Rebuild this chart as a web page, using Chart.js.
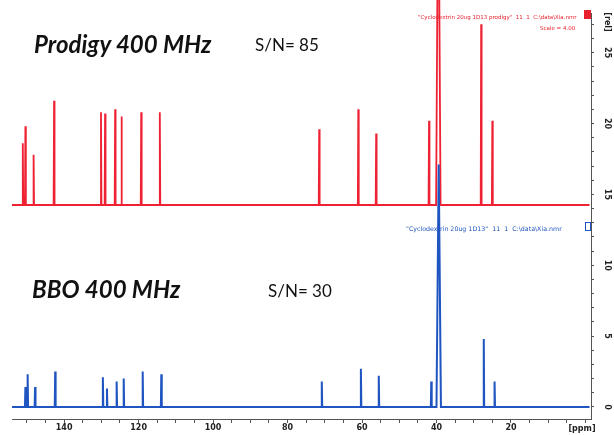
<!DOCTYPE html>
<html>
<head>
<meta charset="utf-8">
<script src="https://cdn.jsdelivr.net/npm/chart.js@4.4.1/dist/chart.umd.min.js"></script>
<style>
  html, body { margin: 0; padding: 0; background: #fff; }
  #wrap { position: relative; width: 614px; height: 435px; overflow: hidden; }
  #espectro { position: absolute; left: 0; top: 0; }
  .rotulo { position: absolute; white-space: nowrap; font-family: Lato, "Open Sans", sans-serif; color: #111; }
  .grande { font-size: 24px; font-weight: 700; font-style: italic; }
  .sn { font-size: 17px; }
  .ruta { font-family: "DejaVu Sans", sans-serif; font-size: 5.5px; }
</style>
</head>
<body>
<div id="wrap">
  <canvas id="espectro" width="614" height="435"></canvas>
  <div class="rotulo grande" style="left:34px; top:29px;">Prodigy 400 MHz</div>
  <div class="rotulo sn" style="left:255px; top:34px;">S/N= 85</div>
  <div class="rotulo grande" style="left:32px; top:274px;">BBO 400 MHz</div>
  <div class="rotulo sn" style="left:268px; top:280px;">S/N= 30</div>
  <div class="rotulo ruta" style="left:418px; top:14px; color:#e8202c;">"Cyclodextrin 20ug 1D13 prodigy"&nbsp; 11&nbsp; 1&nbsp; C:\data\Xia.nmr</div>
  <div class="rotulo ruta" style="left:540px; top:25px; color:#e8202c;">Scale = 4.00</div>
  <div class="rotulo ruta" style="left:406px; top:225px; color:#1f55c0; font-size:6.3px;">"Cyclodextrin 20ug 1D13"&nbsp; 11&nbsp; 1&nbsp; C:\data\Xia.nmr</div>
</div>
<script>
// datos (ppm, altura en [rel])
const ppmProdigy   = [151.1, 150.4, 148.2, 142.7, 130.1, 129.0, 126.3, 124.6, 119.3, 114.3, 71.5, 61.0, 56.2, 42.0, 39.5, 28.0, 25.0];
const altoProdigy  = [18.6, 19.8, 17.8, 21.6, 20.8, 20.7, 21.0, 20.5, 20.8, 20.8, 19.6, 21.0, 19.3, 20.2, 40.0, 27.0, 20.2];
const baseProdigy  = 14.25;

const ppmBBO   = [150.4, 149.8, 147.8, 142.4, 129.6, 128.5, 125.9, 124.0, 118.9, 113.9, 70.8, 60.3, 55.5, 41.4, 39.4, 27.3, 24.4];
const altoBBO  = [1.4, 2.3, 1.4, 2.5, 2.1, 1.3, 1.8, 2.0, 2.5, 2.3, 1.8, 2.7, 2.2, 1.8, 17.1, 4.8, 1.8];
const baseBBO  = 0;

const solvente = 39.5; // DMSO, pico ancho
const ejeX = [154, -1.5];
const ejeY = [-0.85, 27.8];

function armarEspectro(ppm, alto, base){
    let pts = [{x: ejeX[0], y: base}];
    ppm.forEach((p, i)=>{
        const w = Math.abs(p - solvente) < 0.3 ? 0.6 : 0.12;
        pts.push({x: p + w, y: base});
        pts.push({x: p, y: alto[i]});
        pts.push({x: p - w, y: base});
    });
    pts.push({x: ejeX[1] + 0.4, y: base});
    return pts;
}

const extras = {
    id: 'extras',
    afterDraw(chart){
        const ctx = chart.ctx;
        const y = chart.scales.y, x = chart.scales.x;
        ctx.save();
        // etiquetas rotadas del eje derecho
        ctx.fillStyle = '#222';
        ctx.font = 'bold 8px "DejaVu Sans", sans-serif';
        ctx.textAlign = 'center';
        ctx.textBaseline = 'middle';
        [0, 5, 10, 15, 20, 25].forEach(v=>{
            ctx.save();
            ctx.translate(y.right - 7, y.getPixelForValue(v));
            ctx.rotate(Math.PI/2);
            ctx.fillText(String(v), 0, 0);
            ctx.restore();
        });
        ctx.save();
        ctx.translate(y.right - 7, 22);
        ctx.rotate(Math.PI/2);
        ctx.fillText('[rel]', 0, 0);
        ctx.restore();
        // unidad del eje x
        ctx.font = 'bold 8px "DejaVu Sans", sans-serif';
        ctx.fillText('[ppm]', 582, x.bottom - 6);
        // marcadores de leyenda
        ctx.fillStyle = '#e8202c';
        ctx.fillRect(584, 10, 7, 9);
        ctx.strokeStyle = '#1f55c0';
        ctx.lineWidth = 1;
        ctx.strokeRect(585.5, 222.5, 5, 8);
        ctx.restore();
    }
};

const ctx = document.getElementById('espectro').getContext('2d');
new Chart(ctx, {
    type: 'line',
    data: {
        datasets: [{
            label: 'BBO 400 MHz',
            data: armarEspectro(ppmBBO, altoBBO, baseBBO),
            borderColor: '#1f55c0',
            borderWidth: 2,
            pointRadius: 0,
            tension: 0
        }, {
            label: 'Prodigy 400 MHz',
            data: armarEspectro(ppmProdigy, altoProdigy, baseProdigy),
            borderColor: '#ee2233',
            borderWidth: 1.8,
            pointRadius: 0,
            tension: 0,
            clip: {left: 0, right: 0, top: 20, bottom: 0}
        }]
    },
    options: {
        responsive: false,
        animation: false,
        layout: {padding: {left: 12, top: 13, right: 0, bottom: 0}},
        plugins: {legend: {display: false}, tooltip: {enabled: false}},
        scales: {
            x: {
                type: 'linear',
                reverse: true,
                min: ejeX[1],
                max: ejeX[0],
                afterFit: s => { s.height = 16; },
                afterBuildTicks: s => { s.ticks = []; for(let v=150; v>=0; v-=5) s.ticks.push({value: v}); },
                ticks: {
                    autoSkip: false,
                    maxRotation: 0,
                    padding: 0,
                    color: '#222',
                    font: {size: 8, weight: 'bold', family: '"DejaVu Sans", sans-serif'},
                    callback: v => (v % 20 === 0 && v > 0) ? String(v) : ''
                },
                grid: {drawOnChartArea: false, tickLength: 4, color: '#555'},
                border: {color: '#555'}
            },
            y: {
                position: 'right',
                min: ejeY[0],
                max: ejeY[1],
                afterFit: s => { s.width = 23; },
                afterBuildTicks: s => { s.ticks = []; for(let v=0; v<=27; v++) s.ticks.push({value: v}); },
                ticks: {display: false},
                grid: {drawOnChartArea: false, tickLength: 3, color: '#555'},
                border: {color: '#555'}
            }
        }
    },
    plugins: [extras]
});
</script>
</body>
</html>
